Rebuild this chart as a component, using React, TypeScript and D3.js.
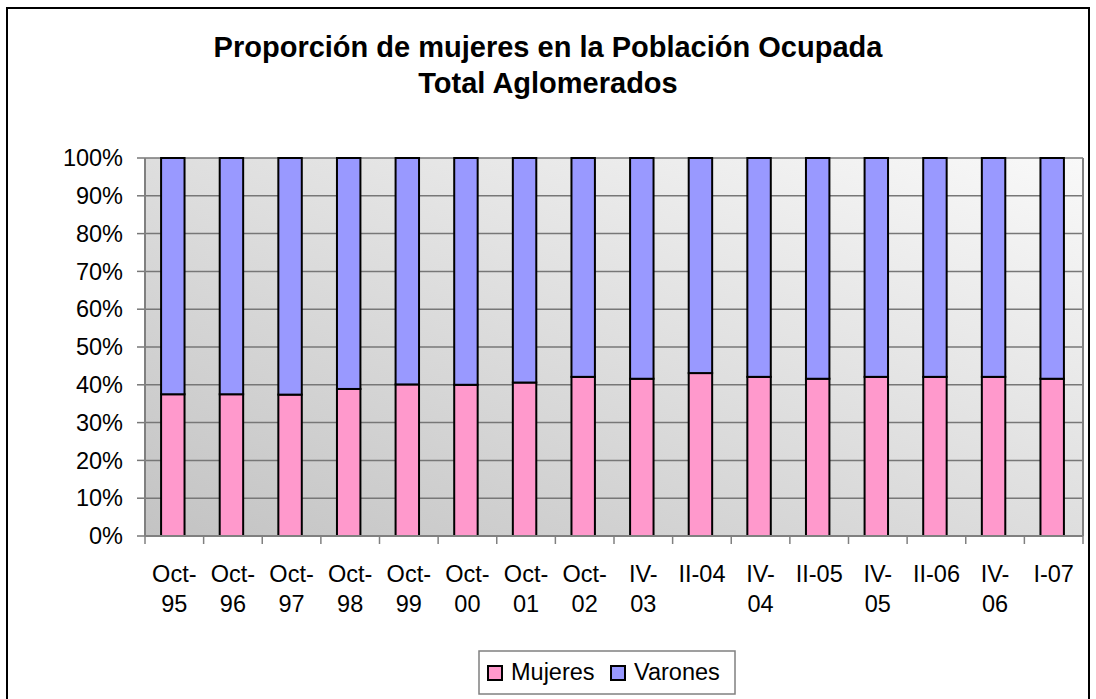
import React from "react";
import * as d3 from "d3";

const categories = [
  "Oct-95", "Oct-96", "Oct-97", "Oct-98", "Oct-99", "Oct-00", "Oct-01", "Oct-02",
  "IV-03", "II-04", "IV-04", "II-05", "IV-05", "II-06", "IV-06", "I-07",
];
const tickLabels = [
  ["Oct-", "95"], ["Oct-", "96"], ["Oct-", "97"], ["Oct-", "98"], ["Oct-", "99"],
  ["Oct-", "00"], ["Oct-", "01"], ["Oct-", "02"], ["IV-", "03"], ["II-04"],
  ["IV-", "04"], ["II-05"], ["IV-", "05"], ["II-06"], ["IV-", "06"], ["I-07"],
];
const mujeres = [37.5, 37.5, 37.4, 38.9, 40.1, 40.0, 40.6, 42.1, 41.6, 43.1, 42.1, 41.6, 42.1, 42.1, 42.1, 41.6];
const varones = [62.5, 62.5, 62.6, 61.1, 59.9, 60.0, 59.4, 57.9, 58.4, 56.9, 57.9, 58.4, 57.9, 57.9, 57.9, 58.4];
const seriesNames = ["Mujeres", "Varones"];
const seriesColors = ["#FF99CC", "#9999FF"];
const yTicks = [0, 10, 20, 30, 40, 50, 60, 70, 80, 90, 100];
const titleLines = ["Proporción de mujeres en la Población Ocupada", "Total Aglomerados"];

const W = 1096;
const H = 699;
const plot = { left: 145, right: 1083, top: 158, bottom: 536 };
const FONT = "'Liberation Sans', Arial, sans-serif";
const FS = 23.5;

export default function App() {
  const rows = categories.map((c, i) => ({ cat: c, Mujeres: mujeres[i], Varones: varones[i] }));
  const stack = d3.stack<any>().keys(seriesNames)(rows);
  const x = d3.scaleBand<string>().domain(categories).range([plot.left, plot.right]).paddingInner(0.6).paddingOuter(0.3);
  const xOuter = d3.scaleBand<string>().domain(categories).range([plot.left, plot.right]);
  const y = d3.scaleLinear().domain([0, 100]).range([plot.bottom, plot.top]);
  const step = xOuter.step();

  return (
    <svg width={W} height={H} style={{ position: "absolute", left: 0, top: 0, background: "#fff" }} fontFamily={FONT}>
      <defs>
        <linearGradient id="bg" x1="0" y1="1" x2="1" y2="0">
          <stop offset="0%" stopColor="#c3c3c3" />
          <stop offset="100%" stopColor="#f9f9f9" />
        </linearGradient>
      </defs>
      <rect x={7} y={8} width={1082} height={700} fill="#fff" stroke="#000" strokeWidth={2} />
      {titleLines.map((t, i) => (
        <text key={t} x={548} y={57 + i * 36} textAnchor="middle" fontWeight="bold" fontSize={29} fill="#000">{t}</text>
      ))}
      <rect x={plot.left} y={plot.top} width={plot.right - plot.left} height={plot.bottom - plot.top} fill="url(#bg)" />
      {yTicks.map((t) => (
        <g key={t}>
          {t > 0 && <line x1={plot.left} x2={plot.right} y1={y(t)} y2={y(t)} stroke="#777" strokeWidth={1.5} />}
          <line x1={plot.left - 8} x2={plot.left} y1={y(t)} y2={y(t)} stroke="#777" strokeWidth={1.5} />
          <text x={123} y={y(t)} dy="0.35em" textAnchor="end" fontSize={FS} fill="#000">{t}%</text>
        </g>
      ))}
      <line x1={plot.right} x2={plot.right} y1={plot.top} y2={plot.bottom} stroke="#808080" strokeWidth={2} />
      {stack.map((s, si) => (
        <g key={s.key}>
          {s.map((d, i) => (
            <rect key={i} x={x(categories[i])! - 1.5} width={x.bandwidth()} y={y(d[1])} height={y(d[0]) - y(d[1])}
              fill={seriesColors[si]} stroke="#000" strokeWidth={2} />
          ))}
        </g>
      ))}
      <line x1={plot.left} x2={plot.left} y1={plot.top} y2={plot.bottom} stroke="#808080" strokeWidth={2} />
      <line x1={plot.left} x2={plot.right} y1={plot.bottom} y2={plot.bottom} stroke="#808080" strokeWidth={2} />
      {d3.range(categories.length + 1).map((i) => (
        <line key={i} x1={plot.left + i * step} x2={plot.left + i * step} y1={plot.bottom} y2={plot.bottom + 8} stroke="#808080" strokeWidth={1.5} />
      ))}
      {categories.map((c, i) => (
        <text key={c} x={xOuter(c)! + step / 2} textAnchor="middle" fontSize={FS} fill="#000">
          {tickLabels[i].map((l, li) => (
            <tspan key={li} x={xOuter(c)! + step / 2} y={582 + li * 30}>{l}</tspan>
          ))}
        </text>
      ))}
      <rect x={479} y={651} width={256} height={43} fill="#fff" stroke="#808080" strokeWidth={1.5} />
      {seriesNames.map((n, i) => {
        const lx = [488, 611][i];
        return (
          <g key={n}>
            <rect x={lx} y={666} width={14} height={14} fill={seriesColors[i]} stroke="#000" strokeWidth={2} />
            <text x={lx + 23} y={680} fontSize={FS} fill="#000">{n}</text>
          </g>
        );
      })}
    </svg>
  );
}
